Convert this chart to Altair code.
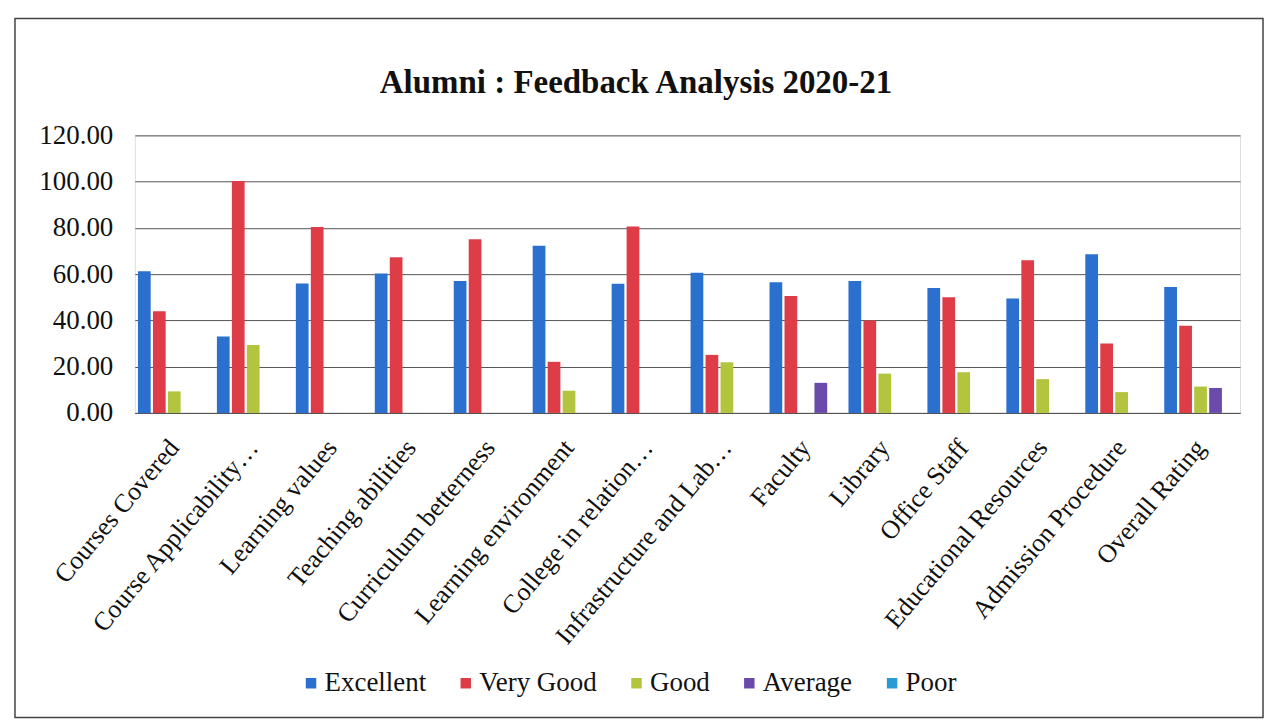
import altair as alt
import pandas as pd

categories = [
    "Courses Covered", "Course Applicability…", "Learning values", "Teaching abilities",
    "Curriculum betterness", "Learning environment", "College in relation…",
    "Infrastructure and Lab…", "Faculty", "Library", "Office Staff",
    "Educational Resources", "Admission Procedure", "Overall Rating",
]
series = ["Excellent", "Very Good", "Good", "Average", "Poor"]
excellent = [61.3, 33.0, 56.0, 60.3, 57.0, 72.3, 55.9, 60.6, 56.5, 57.0, 54.0, 49.5, 68.6, 54.4]
very_good = [44.0, 100.3, 80.4, 67.3, 75.1, 22.1, 80.6, 25.1, 50.6, 40.0, 50.0, 66.0, 30.0, 37.7]
good = [9.3, 29.4, 0, 0, 0, 9.6, 0, 21.9, 0, 17.0, 17.6, 14.6, 9.0, 11.4]
average = [0, 0, 0, 0, 0, 0, 0, 0, 13.0, 0, 0, 0, 0, 10.8]
poor = [0] * 14
colors = ["#2b6fcf", "#de3d48", "#b3c43e", "#6a4bab", "#2a9bd2"]
y_ticks = [0, 20, 40, 60, 80, 100, 120]
title_text = "Alumni : Feedback Analysis 2020-21"

rows = []
for name, vals in zip(series, [excellent, very_good, good, average, poor]):
    for c, v in zip(categories, vals):
        rows.append({"category": c, "series": name, "value": v})
df = pd.DataFrame(rows)

W, H = 1107, 278
SERIF = "Liberation Serif"

bars = alt.Chart(df).mark_bar().encode(
    x=alt.X("category:N", sort=categories,
            scale=alt.Scale(paddingInner=0.08, paddingOuter=0.04),
            axis=alt.Axis(title=None, labelAngle=-50, labelFont=SERIF, labelFontSize=26,
                          labelColor="#111", labelPadding=30, labelLimit=400,
                          ticks=False, domain=True, domainColor="#555", grid=False)),
    xOffset=alt.XOffset("series:N", sort=series, scale=alt.Scale(paddingInner=0.15)),
    y=alt.Y("value:Q", scale=alt.Scale(domain=[0, 120], nice=False),
            axis=alt.Axis(title=None, values=y_ticks, format=".2f", labelFont=SERIF,
                          labelFontSize=27, labelColor="#111", labelPadding=22,
                          ticks=False, domain=False, grid=True, gridColor="#555",
                          gridWidth=1)),
    color=alt.Color("series:N", sort=series,
                    scale=alt.Scale(domain=series, range=colors),
                    legend=alt.Legend(title=None, orient="none", direction="horizontal",
                                      legendX=163, legendY=535, columns=5,
                                      symbolType="square", symbolSize=110,
                                      symbolStrokeWidth=0, labelFont=SERIF,
                                      labelFontSize=27, labelColor="#111",
                                      labelOffset=0, columnPadding=26)),
)

border = alt.Chart(pd.DataFrame({"a": [0]})).mark_rect(
    fillOpacity=0, stroke="#444", strokeWidth=1.5
).encode(
    x=alt.value(-120), x2=alt.value(1130), y=alt.value(-117), y2=alt.value(583)
)

title = alt.Chart(pd.DataFrame({"t": [title_text]})).mark_text(
    font=SERIF, fontSize=33, fontWeight="bold", color="#111", align="center",
    baseline="alphabetic"
).encode(text="t:N", x=alt.value(502), y=alt.value(-42))

chart = alt.layer(border, title, bars).properties(
    width=W, height=H,
    autosize=alt.AutoSizeParams(type="none"),
    padding={"left": 127, "top": 127, "right": 28, "bottom": 310},
).configure_view(stroke=None).configure(background="white")

chart.save("out.html", embed_options={"renderer": "svg", "actions": False})
